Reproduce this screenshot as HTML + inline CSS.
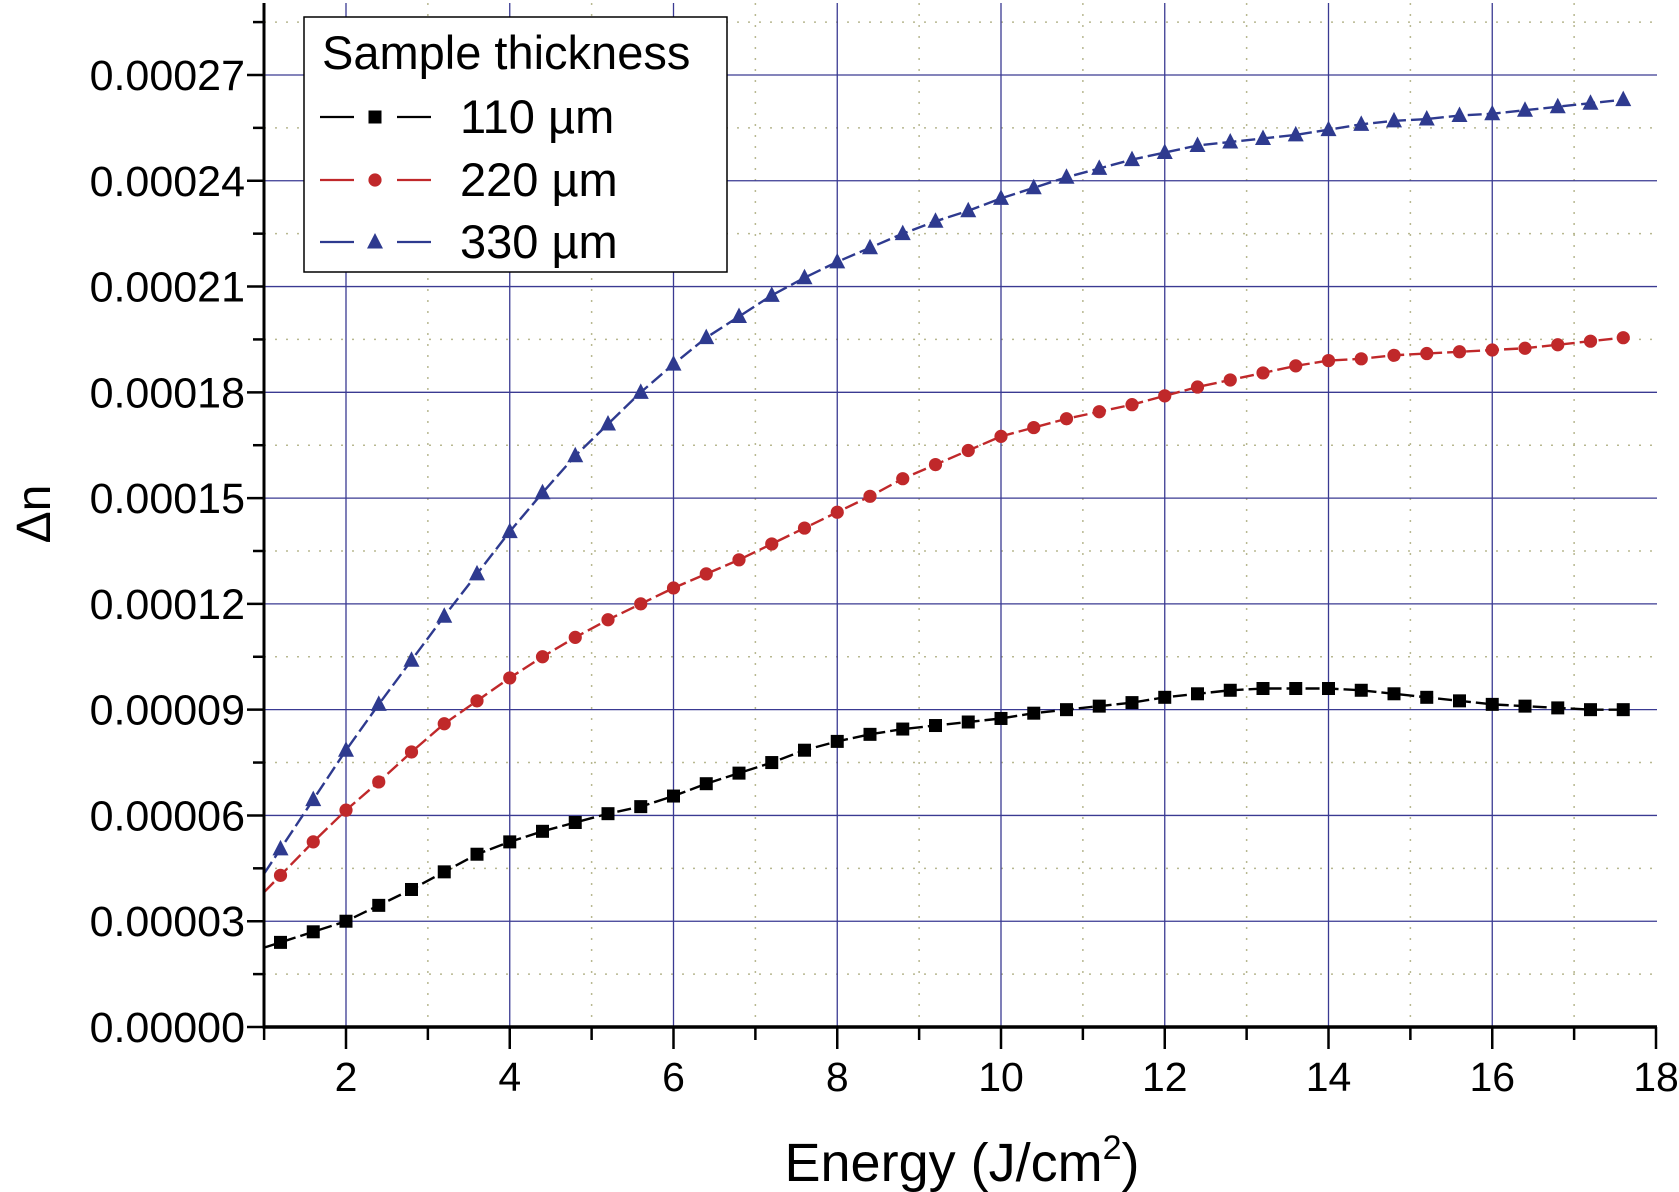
<!DOCTYPE html>
<html><head><meta charset="utf-8"><style>
html,body{margin:0;padding:0;background:#fff;}
svg{display:block;font-family:"Liberation Sans",sans-serif;}
</style></head><body>
<svg id="chart" width="1679" height="1192" viewBox="0 0 1679 1192" xmlns="http://www.w3.org/2000/svg">
<g id="grid"></g>
<g id="series"></g>
<g id="axes"></g>
<g id="legend">
<rect x="304" y="17" width="423" height="255" fill="#fff" stroke="#000" stroke-width="1.5"/>
<text x="322" y="69" font-size="47">Sample thickness</text>
</g>
<text x="962" y="1181" font-size="54" text-anchor="middle">Energy (J/cm<tspan font-size="34" dy="-22">2</tspan><tspan dy="22">)</tspan></text>
<text x="0" y="0" font-size="48" text-anchor="middle" transform="translate(50,514) rotate(-90)">Δn</text>
</svg>
<script>
const xs = [1.2,1.6,2.0,2.4,2.8,3.2,3.6,4.0,4.4,4.8,5.2,5.6,6.0,6.4,6.8,7.2,7.6,8.0,8.4,8.8,9.2,9.6,10.0,10.4,10.8,11.2,11.6,12.0,12.4,12.8,13.2,13.6,14.0,14.4,14.8,15.2,15.6,16.0,16.4,16.8,17.2,17.6];
const s110 = [2.4,2.7,3.0,3.45,3.9,4.4,4.9,5.25,5.55,5.8,6.05,6.25,6.55,6.9,7.2,7.5,7.85,8.1,8.3,8.45,8.55,8.65,8.75,8.9,9.0,9.1,9.2,9.35,9.45,9.55,9.6,9.6,9.6,9.55,9.45,9.35,9.25,9.15,9.1,9.05,9.0,9.0];
const s220 = [4.3,5.25,6.15,6.95,7.8,8.6,9.25,9.9,10.5,11.05,11.55,12.0,12.45,12.85,13.25,13.7,14.15,14.6,15.05,15.55,15.95,16.35,16.75,17.0,17.25,17.45,17.65,17.9,18.15,18.35,18.55,18.75,18.9,18.95,19.05,19.1,19.15,19.2,19.25,19.35,19.45,19.55];
const s330 = [5.05,6.45,7.85,9.15,10.4,11.65,12.85,14.05,15.15,16.2,17.1,18.0,18.8,19.55,20.15,20.75,21.25,21.7,22.1,22.5,22.85,23.15,23.5,23.8,24.1,24.35,24.6,24.8,25.0,25.1,25.2,25.3,25.45,25.6,25.7,25.75,25.85,25.9,26.0,26.1,26.2,26.3];
const xTicks = [2,4,6,8,10,12,14,16,18];
const yTicks = ["0.00000","0.00003","0.00006","0.00009","0.00012","0.00015","0.00018","0.00021","0.00024","0.00027"];
const legendLabels = ["110 µm","220 µm","330 µm"];

const NS="http://www.w3.org/2000/svg";
const X0=264, X1=1657, Y0=1027, YTOP=3;
function xp(x){return 346+(x-2)*81.875;}
function yp(v){return 1027 - v/3*105.78;}
function mk(tag,attrs,parent){const e=document.createElementNS(NS,tag);for(const k in attrs)e.setAttribute(k,attrs[k]);parent.appendChild(e);return e;}
const grid=document.getElementById('grid'), axes=document.getElementById('axes'), ser=document.getElementById('series'), leg=document.getElementById('legend');

for(let x=3;x<=17;x+=2){
  const l=mk('line',{x1:xp(x),x2:xp(x),y1:YTOP,y2:Y0,stroke:'#b8b890','stroke-width':1.5,'stroke-dasharray':'2 9'},grid);
  
  
}
for(let i=0;i<10;i++){
  const v=i*3+1.5;
  const l=mk('line',{x1:X0,x2:X1,y1:yp(v),y2:yp(v),stroke:'#b8b890','stroke-width':1.5,'stroke-dasharray':'2 9'},grid);
  
  
}
xTicks.forEach(t=>{
  if(t<18){
  const l=mk('line',{x1:xp(t),x2:xp(t),y1:YTOP,y2:Y0,stroke:'#3a3a92','stroke-width':1.3},grid);
  
  }
});
yTicks.forEach((t,i)=>{
  if(i===0)return;
  const l=mk('line',{x1:X0,x2:X1,y1:yp(i*3),y2:yp(i*3),stroke:'#3a3a92','stroke-width':1.3},grid);
  
  
});

function drawSeries(vals,color,shape,name){
  const g=mk('g',{},ser);
  
  
  const slope=(vals[1]-vals[0])/(xs[1]-xs[0]);
  const v1=vals[0]-slope*(xs[0]-1);
  let d='M'+xp(1)+','+yp(v1);
  xs.forEach((x,i)=>{d+=' L'+xp(x)+','+yp(vals[i]);});
  const p=mk('path',{d:d,fill:'none',stroke:color,'stroke-width':2.4,'stroke-dasharray':'14 5'},g);
  
  
  xs.forEach((x,i)=>{
    const m=drawMarker(shape,xp(x),yp(vals[i]),color,g);
    
    
  });
}
function drawMarker(shape,cx,cy,color,parent){
  if(shape==='square') return mk('rect',{x:cx-6.5,y:cy-6.5,width:13,height:13,fill:color},parent);
  if(shape==='circle') return mk('circle',{cx:cx,cy:cy,r:6.6,fill:color},parent);
  return mk('polygon',{points:`${cx},${cy-9} ${cx+8},${cy+6.5} ${cx-8},${cy+6.5}`,fill:color},parent);
}
drawSeries(s110,'#000','square','series-110um');
drawSeries(s220,'#c0282a','circle','series-220um');
drawSeries(s330,'#2e3a8f','triangle','series-330um');

let a=mk('line',{x1:X0,x2:X0,y1:YTOP,y2:Y0+1.5,stroke:'#000','stroke-width':3},axes);

a=mk('line',{x1:X0-1.5,x2:X1,y1:Y0,y2:Y0,stroke:'#000','stroke-width':3.5},axes);

for(let x=1;x<=18;x++){
  const major=(x%2===0);
  const l=mk('line',{x1:xp(x),x2:xp(x),y1:Y0,y2:Y0+(major?22:13),stroke:'#000','stroke-width':2.5},axes);
  
  
}
xTicks.forEach(t=>{
  const tx=mk('text',{x:xp(t),y:1091,'font-size':41,'text-anchor':'middle'},axes);
  tx.textContent=t;
  
  
});
for(let k=0;k<=19;k++){
  const v=k*1.5;
  const major=(k%2===0);
  const l=mk('line',{x1:X0-(major?17:11),x2:X0,y1:yp(v),y2:yp(v),stroke:'#000','stroke-width':2.5},axes);
  
  
}
yTicks.forEach((t,i)=>{
  const tx=mk('text',{x:245,y:yp(i*3)+15,'font-size':43,'text-anchor':'end'},axes);
  tx.textContent=t;
  
  
});

const legColors=['#000','#c0282a','#2e3a8f'], legShapes=['square','circle','triangle'], legY=[117,180,242];
legendLabels.forEach((lab,i)=>{
  const g=mk('g',{},leg);
  
  
  mk('line',{x1:320,x2:354,y1:legY[i],y2:legY[i],stroke:legColors[i],'stroke-width':2.2},g);
  mk('line',{x1:397,x2:431,y1:legY[i],y2:legY[i],stroke:legColors[i],'stroke-width':2.2},g);
  drawMarker(legShapes[i],375,legY[i],legColors[i],g);
  const tx=mk('text',{x:460,y:legY[i]+16,'font-size':47},g);
  tx.textContent=lab;
});
</script>
</body></html>
